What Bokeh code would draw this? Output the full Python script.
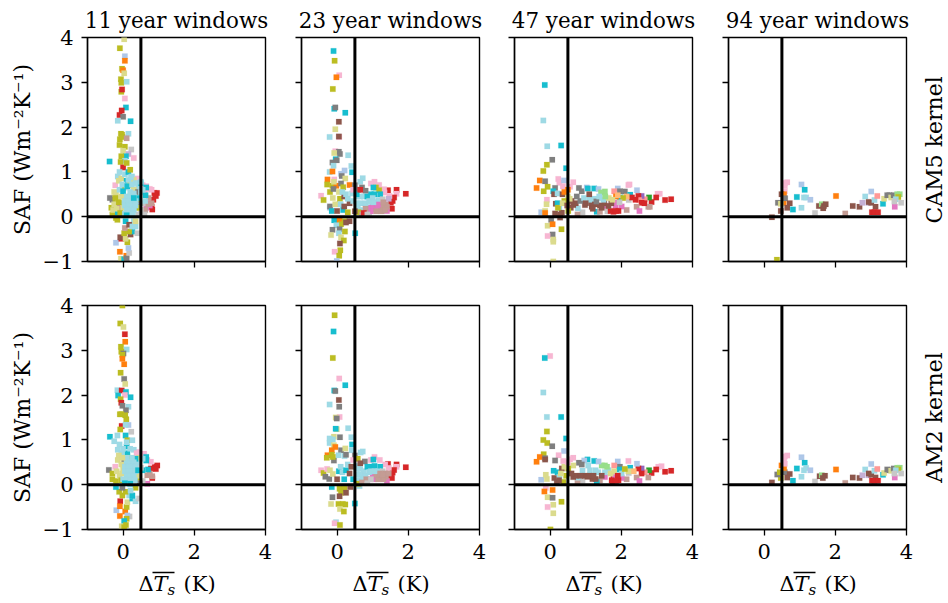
from math import pi
from bokeh.plotting import figure
from bokeh.layouts import column, row
from bokeh.models import Span, FixedTicker, ColumnDataSource
from bokeh.core.properties import value
from bokeh.embed import file_html
from bokeh.resources import INLINE

tab20 = ["#1f77b4","#aec7e8","#ff7f0e","#ffbb78","#2ca02c","#98df8a","#d62728","#ff9896","#9467bd","#c5b0d5",
         "#8c564b","#c49c94","#e377c2","#f7b6d2","#7f7f7f","#c7c7c7","#bcbd22","#dbdb8d","#17becf","#9edae5"]

titles = ["11 year windows","23 year windows","47 year windows","94 year windows"]
kernels = ["CAM5 kernel","AM2 kernel"]
ylabel = "SAF (Wm⁻²K⁻¹)"
xticks = [0,2,4]
yticks = [-1,0,1,2,3,4]

# (delta Ts, SAF, model colour index)
cam5_11 = [(.95,.53,6),(.92,.46,6),(.88,.53,6),(.85,.38,6),(.8,.22,6),(.82,.16,6),(.9,.48,6),(.4,.85,13),(.55,.7,13),(.65,.68,13),(.75,.62,13),(.8,.6,13),(.6,.55,13),
(.7,.3,12),(.75,.25,12),(.65,.2,12),(.7,.28,11),(.8,.3,11),(.62,.15,11),(.72,.42,11),(.55,.05,11),(.55,.3,15),(.5,.15,15),(.6,.05,15),
(.03,3.96,17),(-.09,3.76,16),(.05,3.58,1),(.05,3.48,2),(-.03,3.3,16),(0,3.27,2),(.03,3.2,17),(-.06,3.07,16),(-.05,2.99,16),(.1,3.01,19),(-.05,2.79,16),(-.03,2.84,6),(.05,2.64,13),(.08,2.44,18),(-.04,2.37,6),(-.1,2.27,6),(0,2.23,14),(-.15,2.14,19),(.21,2.13,18),(.15,1.85,19),(-.06,1.85,16),(-.03,1.83,16),(-.09,1.73,16),(-.02,1.78,16),(.1,1.75,11),(-.1,1.6,16),(.05,1.56,16),(.23,1.5,15),(0,1.47,17),(.15,1.4,9),(.08,1.35,18),(-.05,1.35,16),(.3,1.31,13),(-.38,1.23,18),(.05,1.25,19),(-.07,1.22,16),(0,1.1,6),(.1,1.2,16),
(-.2,-.58,1),(-.09,-.78,2),(-.06,-.94,17),(.03,-.95,18),(.09,-.87,2),(.1,-.93,14),(.17,-.81,15),(.15,-.7,1),(.12,-.57,16),(-.05,-.49,6),(-.08,-.46,10),(.07,-.49,17),(.21,-.4,10),(.26,-.33,18),(.4,-.37,15),(.35,-.22,19),(.17,-.33,16),(.03,-.37,16),(.05,-.25,11),(.07,-.1,18),(-.16,-.07,16),(-.2,-.03,16),(.3,-.1,19),(.17,-.18,10),(.26,-.22,19),(.35,-.1,17),
(-.37,.42,14),(-.3,.38,14),(-.33,.2,16),(-.3,.05,16),(-.28,.15,17),(-.25,.55,17),(-.22,.7,13),(-.2,.5,17),(-.2,.3,16),(-.15,.1,18),(-.15,.9,19),(-.1,1.0,19),(-.05,.85,17),(0,.65,16),(-.1,.6,19),(.05,.95,19),(.15,1.0,18),(.2,1.05,16),(.25,.9,19),(.3,.82,17),(.1,.8,18),(.1,.65,19),(-.05,.45,17),(-.05,.3,19),(-.1,.2,11),(0,.05,16),(0,.57,18),
(-.12,.8,17),(-.02,.72,19),(-.15,.42,17),(-.25,.28,17),(0,.2,17),(.15,.82,19),(.2,.7,17),(.22,.88,19),(.35,.55,17),(.42,.65,19),(.38,.2,17),(.45,.32,14),(-.18,.18,17),(-.12,.32,16),(-.22,.42,16),(-.08,.08,16),
(.35,.75,19),(.3,.6,17),(.38,.4,16),(.42,.55,14),(.45,.2,16),(.42,.05,15),(.5,.75,18),(.65,.65,18),(.5,.55,19),(.63,.48,18),(.45,.42,18),(.62,.35,19),(.5,.78,19),(.55,.6,19),
(.1,.45,19),(.2,.45,19),(.3,.45,19),(.05,.35,19),(.15,.35,19),(.25,.35,19),(.35,.35,19),(.05,.25,19),(.15,.25,19),(.25,.25,19),(.35,.25,19),(.1,.15,19),(.2,.15,19),(.3,.15,19),(.05,.07,19),(.15,.07,19),(.27,.07,19),(.2,.55,19),(.3,.52,19),(.12,.68,18),(.25,.72,19),(.1,.03,18),(.3,.42,18)]

cam5_23 = [(1.93,.51,6),(1.67,.6,6),(1.67,.51,13),(1.43,.59,6),(1.6,.43,6),(1.56,.35,6),(1.51,.31,6),(1.54,.18,6),(1.4,.13,12),(1.21,.13,11),(1.37,.28,11),(1.23,.28,11),(1.05,.16,12),(1,.24,12),(1.2,.24,12),(1.05,.78,13),(.95,.74,13),(1.18,.71,13),(1.32,.61,13),(1.33,.54,13),(1.47,.46,13),(1.09,.65,16),(1.18,.59,16),(1.02,.65,18),(.95,.5,18),(1.05,.5,18),(1.21,.5,18),(1.16,.37,19),(1.28,.39,15),(.9,.09,15),
(1.3,.15,11),(1.12,.2,12),(.95,.18,12),(1.28,.22,11),(1.4,.22,11),(1.45,.4,9),(.95,.12,12),(1.1,.12,11),(1.25,.12,11),(1.35,.15,11),(1.15,.27,12),(.85,.2,12),(1.3,.32,11),
(-.1,3.7,18),(-.07,3.48,16),(.06,3.16,13),(-.02,3.11,2),(-.12,2.85,16),(-.08,2.41,18),(-.05,2.44,14),(.23,2.32,18),(.05,2.12,10),(-.05,1.95,17),(-.21,1.78,19),(.06,1.78,13),(.05,1.79,10),(-.05,1.46,13),(.05,1.45,14),(-.08,1.42,17),(.08,1.4,14),(.31,1.37,19),(-.04,1.28,18),(-.01,1.26,14),(-.13,1.21,14),(-.1,1.14,19),(.4,1.13,19),(-.21,1,19),(-.13,1.01,2),(.42,.99,18),(.21,1.03,1),(.11,.96,1),(-.27,.83,2),(-.08,.83,13),(.13,.91,14),(.23,.85,17),(-.28,.72,16),(-.13,.69,16),(-.02,.69,2),(-.09,.78,17),(.11,.74,14),(.35,.71,2),(.17,.66,16),(.72,.86,19),(.65,.78,19),
(-.08,-.08,18),(.07,-.08,2),(.21,-.1,16),(.11,-.17,16),(-.02,-.19,19),(-.13,-.29,14),(.07,-.28,14),(.22,-.33,16),(.05,-.37,19),(-.17,-.41,17),(.51,-.37,18),(.11,-.46,17),(.19,-.53,16),(.08,-.6,10),(.09,-.75,16),(-.07,-.78,13),(.06,-.87,16),(-.01,-.99,1),(.35,-.1,10),(.25,-.13,10),
(-.45,.47,13),(-.38,.37,16),(-.2,.55,16),(-.1,.62,14),(-.2,.2,1),(-.2,.23,14),(-.15,.13,18),(-.05,.28,17),(-.12,.42,17),(0,.13,10),(.08,.4,16),(.05,.55,17),(.1,.28,19),(.17,.15,18),(.2,.23,10),(.3,.1,16),(.35,.3,10),(.2,.45,10),(.3,.4,19),(.42,.52,19),(.45,.35,19),(.25,.5,19),(.15,.55,19),(.5,.7,14),(.6,.6,14),(.45,.6,13),(.7,.65,14),(.8,.58,14),
(.55,.45,19),(.65,.45,19),(.75,.45,19),(.55,.3,19),(.65,.3,19),(.8,.3,19),(.85,.45,18),(.58,.2,19),(.7,.15,19),(.8,.18,11),(.9,.35,19),(.6,.1,16),(.7,.05,11),(.75,.08,6),(.85,.05,15),(.55,.5,18),(.65,.6,6),(.5,.12,10),(1.0,.42,19),(.95,.33,19),(1.02,.32,19)]

cam5_47 = [(-.15,2.94,18),(-.19,2.15,19),(-.08,1.57,19),(.31,1.59,18),(.06,1.27,14),(-.09,1.16,16),(-.19,1.02,16),(.45,1.08,18),(-.29,.81,2),(-.14,.79,14),(-.38,.64,2),(-.07,.67,16),(-.18,.57,16),(.23,.84,13),(.26,.76,13),(.39,.81,1),(.65,.77,13),(.36,.68,13),(.14,.64,14),(.09,.57,18),(.11,.5,10),(.21,.52,19),(.35,.5,10),(.56,.67,13),(.81,.64,14),(.89,.57,14),(1.03,.65,1),(1.06,.63,18),(1.24,.63,18),(1.36,.62,1),
(2.2,.71,13),(2.23,.72,13),(2.44,.59,1),(1.9,.63,1),(1.96,.57,14),(2.1,.56,14),(2.25,.49,18),(1.8,.57,7),(1.96,.43,18),(1.54,.56,5),(1.43,.54,5),(3.08,.51,13),(3.02,.51,13),(3.4,.39,6),(3.23,.37,6),(2.98,.43,6),(2.85,.33,6),(2.78,.43,4),(2.66,.39,7),(2.57,.46,8),(2.48,.46,6),(2.5,.37,7),(2.57,.31,6),(2.76,.22,11),(2.43,.22,11),(2.51,.13,12),(2.15,.15,11),(2.01,.23,12),(2.21,.37,15),(1.84,.31,12),(1.84,.24,12),(1.92,.13,6),(1.78,.11,6),(1.56,.24,12),(1.31,.11,18),(1.4,.11,11),(1.61,.12,15),(.91,.1,15),(.77,.05,11),(.78,.19,19),
(2.3,.43,6),(2.15,.45,3),(2.05,.42,16),(1.95,.32,15),(2.4,.38,6),(2.65,.3,6),(2.8,.22,11),(1.7,.13,6),(1.85,.13,6),(1.72,.3,10),(1.52,.3,10),(1.85,.45,2),(1.9,.48,3),
(.65,.26,10),(.58,.2,10),(.98,.26,10),(1.17,.22,10),(1.28,.28,10),(1.15,.31,10),(1.4,.25,10),(1.64,.24,10),(.72,.3,10),(.85,.35,14),(.95,.42,19),(1.1,.38,19),(1.25,.4,19),(1.4,.42,19),(1.5,.38,19),(1.65,.42,17),(1.75,.38,17),(1.1,.5,10),(.75,.45,14),(1.0,.3,10),(1.3,.34,14),(1.38,.45,19),(1.55,.45,5),(1.2,.18,10),(1.45,.2,10),(.6,.35,10),
(-.25,.1,1),(-.14,.13,17),(-.14,.08,2),(-.09,.38,13),(-.1,.28,17),(.16,.29,10),(.21,.3,18),(.26,.2,19),(.14,.07,10),(.33,.09,10),(.51,.13,16),(.5,.45,17),(.4,.35,16),(.55,.4,17),(.4,.55,2),(.5,.6,2),(.28,.05,10),(.22,.2,16),(.35,.3,17),(.48,.25,10),
(.03,-.07,14),(.28,-.02,10),(-.07,-.2,17),(.07,-.17,2),(.32,-.28,16),(.07,-.4,14),(-.07,-.43,13),(.09,-.51,17),(.09,-.56,17),(.09,-1,17)]

cam5_94 = [(.22,-.01,10),(.47,.13,10),(.36,-.96,16),(.55,.31,2),(.65,.77,13),(.59,.75,13),(.58,.69,13),(.58,.57,13),(.49,.5,10),(.56,.5,2),(.59,.41,14),(.39,.31,14),(.47,.29,17),(.72,.3,10),(.65,.2,10),(.81,.16,18),(.92,.44,18),(1.05,.72,1),(1.14,.6,18),(1.12,.43,19),(1.18,.43,19),(1.3,.38,1),(1.05,.2,19),(1.43,.08,15),(1.54,.24,10),(1.62,.28,5),(1.68,.24,10),(1.73,.28,10),(1.66,.19,10),(2.02,.46,2),(2.28,.07,11),(2.49,.24,10),(2.68,.22,10),(2.76,.31,9),(2.84,.45,19),(2.93,.31,9),(2.94,.33,10),(3.01,.31,10),(3.01,.56,1),(3.1,.37,19),(3.13,.22,10),(3.18,.46,7),(3.03,.1,6),(3.1,.1,6),(3.2,.1,6),(3.34,.29,18),(3.37,.4,17),(3.46,.48,14),(3.52,.48,14),(3.57,.43,17),(3.64,.48,14),(3.74,.5,5),(3.81,.5,5),(3.77,.44,16),(3.7,.39,19),(3.67,.22,12),(3.66,.34,15),(3.85,.31,15)]

am2_11 = [(.96,.43,6),(.89,.4,6),(.92,.35,6),(.82,.15,6),(.78,.36,6),(.78,.51,13),(.59,.69,13),(.4,.73,13),(.68,.55,13),(.82,.19,11),(.68,.21,11),(.75,.25,11),(.68,.02,12),(.55,.08,15),(.65,.62,18),(.65,.54,18),(.7,.34,18),(.54,.32,18),
(-.02,4,16),(-.08,3.6,16),(.01,3.52,17),(.05,3.36,6),(.06,3.19,2),(-.06,3.08,16),(.1,3.02,19),(-.05,2.97,16),(.01,2.93,14),(-.02,2.9,16),(-.02,2.81,2),(.03,2.69,2),(-.07,2.5,16),(.03,2.36,14),(.06,2.25,17),(-.16,2.11,19),(-.04,2.1,6),(.08,2.07,18),(-.14,1.99,18),(.05,2,13),(.21,1.95,18),(-.07,1.91,16),(-.05,1.83,6),(.15,1.74,19),(-.02,1.76,14),(.08,1.66,14),(-.09,1.57,16),(-.05,1.57,16),(.06,1.55,16),(.09,1.46,16),(-.04,1.31,6),(.15,1.33,1),(.07,1.34,19),(.23,1.18,15),(-.08,1.23,16),(-.37,1.07,18),(-.16,1.1,19),(.07,1.1,18),(-.25,.97,19),(.12,.99,16),(.26,.99,19),
(-.19,-.57,1),(-.08,-.37,6),(-.09,-.48,2),(.06,-.6,2),(.1,-.5,16),(-.09,-.7,2),(.18,-.71,15),(.12,-.69,1),(.1,-.76,16),(.03,-.81,18),(-.04,-.93,17),(.08,-.9,16),(.03,-.95,16),(.12,-.39,17),(.26,-.31,18),(.35,-.37,19),(.45,-.31,15),(.17,-.24,19),(.26,-.24,18),(-.02,-.24,16),(-.11,-.16,16),(-.2,-.05,18),(.07,-.16,16),(.35,-.07,16),(-.02,-.07,14),(.21,-.13,19),
(-.4,.33,14),(-.3,.25,16),(-.3,.12,16),(-.2,.08,16),(-.22,.4,13),(-.15,.55,17),(-.15,.78,19),(-.1,.9,19),(-.1,.2,17),(-.05,.1,16),(-.05,.7,19),(0,.35,17),(.03,.5,14),(.1,.85,18),(.12,.7,18),(.15,.6,16),(.2,.8,19),(.3,.78,19),(.38,.7,13),(.4,.5,19),(.45,.6,17),(.45,.15,16),(.5,.38,15),(.55,.58,19),(.35,.58,18),
(-.05,.45,17),(-.18,.3,17),(-.12,.65,17),(0,.8,19),(.1,.95,19),(.42,.2,17),(.47,.03,14),(-.03,.25,17),
(.1,.5,19),(.2,.5,19),(.3,.5,19),(.05,.4,19),(.15,.4,19),(.25,.4,19),(.35,.4,19),(.05,.3,19),(.15,.3,19),(.25,.3,19),(.35,.3,19),(.1,.2,19),(.2,.2,19),(.3,.2,19),(0,.12,19),(.1,.1,19),(.22,.1,19),(.33,.1,19),(.05,.03,18),(.2,.02,18),(.1,.6,19),(.25,.6,19),(-.02,.6,17),(.42,.32,18)]

am2_23 = [(1.93,.39,6),(1.67,.45,6),(1.67,.4,13),(1.43,.46,6),(1.6,.33,6),(1.56,.27,6),(1.51,.2,6),(1.54,.15,6),(1.4,.08,12),(1.21,.13,11),(1.37,.18,11),(1.25,.15,11),(1.05,.12,12),(1,.2,12),(1.05,.62,13),(.95,.55,13),(1.2,.55,13),(1.35,.45,13),(1.45,.37,13),(1.02,.56,18),(.95,.4,18),(1.05,.42,18),(1.21,.4,18),(1.16,.3,19),(1.28,.3,15),
(1.3,.12,11),(1.35,.25,11),(1.15,.12,11),(1.45,.25,11),(1.1,.22,11),(1.2,.25,11),(.92,.12,12),(1.28,.22,11),
(-.07,3.78,16),(-.1,3.42,18),(-.12,2.83,16),(.06,2.37,13),(.23,2.22,18),(-.08,2.1,18),(-.05,2.09,14),(.05,1.89,10),(-.21,1.79,19),(.06,1.74,14),(.07,1.51,13),(-.04,1.5,17),(-.01,1.48,14),(-.01,1.24,17),(-.04,1.25,18),(.31,1.26,19),(.08,1.06,14),(-.09,1.07,17),(-.21,1.03,19),(-.12,1.01,19),(.4,1.06,19),(-.21,.93,19),(-.09,.88,17),(.42,.9,18),(-.05,.84,2),(-.15,.77,2),(.11,.77,14),(.41,.77,19),(.23,.81,17),(-.27,.66,2),(-.15,.67,16),(-.29,.6,16),(-.09,.54,14),(.04,.66,19),(.21,.64,19),(.25,.67,14),(-.12,.62,16),
(-.15,-.05,18),(.07,-.09,16),(.21,-.09,16),(.11,-.18,16),(-.13,-.28,14),(.07,-.26,10),(-.17,-.43,17),(.04,-.43,16),(.16,-.43,16),(.23,-.44,16),(.08,-.54,17),(.19,-.6,16),(.5,-.42,18),(-.03,-.84,19),(-.07,-.86,13),(.08,-.9,16),(.37,-.05,10),(.63,-.03,19),(.25,-.18,10),
(-.45,.32,13),(-.38,.26,16),(-.28,.35,13),(-.33,.18,14),(-.2,.32,17),(-.22,.13,14),(-.12,.24,17),(0,.12,10),(.05,.3,18),(.1,.4,19),(.15,.28,19),(.25,.32,18),(.3,.45,19),(.35,.25,10),(.4,.4,10),(.45,.12,18),(.2,.12,18),(.5,.65,14),(.58,.58,16),(.72,.74,19),(.66,.72,19),(.78,.52,14),(.45,.55,13),(.6,.42,19),
(.55,.35,19),(.65,.35,19),(.75,.3,19),(.55,.22,19),(.65,.22,19),(.8,.2,19),(.85,.4,18),(.6,.1,19),(.72,.12,19),(.82,.12,11),(.9,.28,19),(.6,.02,16),(.7,.05,11),(.85,.03,15),(.95,.12,15),(.65,.48,10),(.95,.3,19),(1.05,.3,19)]

am2_47 = [(0,2.87,13),(-.15,2.83,18),(-.19,2.06,19),(-.09,1.51,19),(.31,1.51,18),(-.09,1.19,16),(-.19,1,16),(-.08,.93,16),(.06,.86,14),(.45,1.03,18),(.39,.75,1),(-.18,.68,16),(-.29,.62,2),(-.14,.59,14),(-.14,.56,10),(-.38,.51,2),(.24,.66,13),(.14,.54,14),(.37,.53,13),(.65,.6,13),(.56,.57,13),
(3.4,.31,6),(3.23,.29,6),(3.13,.41,13),(3.04,.4,13),(2.98,.34,6),(2.85,.26,6),(2.78,.32,4),(2.66,.28,7),(2.57,.36,8),(2.48,.36,6),(2.57,.25,6),(2.76,.16,11),(2.44,.47,1),(2.2,.53,13),(2.43,.16,11),(2.51,.08,12),(2.15,.12,11),(2.01,.15,12),(2.25,.38,18),(2.21,.26,15),(1.9,.52,1),(1.96,.4,14),(1.94,.34,18),(1.8,.43,7),(1.54,.43,5),(1.45,.43,5),(1.78,.13,6),(1.82,.17,12),(1.73,.1,6),(1.92,.1,6),(2.01,.25,19),(1.54,.17,12),(1.4,.1,11),(1.24,.53,18),(1.36,.52,1),(1.05,.56,18),(.96,.54,1),(.81,.49,14),(.89,.45,14),(1.07,.43,19),(1.28,.32,19),(1.12,.32,19),(.91,.31,19),(1.31,.06,18),(.91,.09,15),(.77,.04,11),(.78,.16,19),(.65,.17,10),(.98,.2,10),(1.19,.13,10),(1.28,.13,10),(1.54,.28,19),(1.64,.32,19),(1.35,.28,19),(.65,.43,17),(.51,.36,16),
(.72,.2,10),(.85,.2,10),(1.05,.18,10),(.6,.25,10),(1.7,.25,17),(1.8,.3,17),(2.35,.3,3),(2.2,.3,17),(2.1,.35,16),(1.6,.4,5),(1.1,.2,10),(1.22,.2,10),(1.45,.2,10),(1.9,.2,6),(1.75,.05,6),(1.85,.08,6),
(-.25,.11,1),(-.09,.13,17),(-.12,.22,17),(.12,.15,10),(.1,.31,18),(.21,.28,18),(.26,.17,19),(.33,.36,10),(.19,.06,10),(.37,.06,16),(.45,.2,16),(.4,.4,17),(.25,.1,10),(.3,.25,17),(.5,.5,13),
(-.12,-.07,13),(-.16,-.15,2),(.07,-.12,2),(-.07,-.28,17),(.07,-.29,14),(.32,-.38,16),(.09,-.45,17),(-.07,-.5,13),(.09,-.64,17),(.01,-1,16)]

am2_94 = [(.22,.05,10),(2.28,.04,11),(1.43,.07,15),(.81,.09,18),(1.05,.18,19),(.47,.15,16),(.37,.23,14),(.44,.28,16),(.58,.28,14),(.56,.37,2),(.49,.43,2),(.65,.65,13),(.58,.63,13),(.56,.54,13),(.58,.47,13),(.72,.24,10),(.65,.16,10),(.92,.36,18),(1.05,.61,1),(1.14,.49,18),(1.12,.32,19),(1.18,.37,19),(1.3,.32,1),(1.56,.19,10),(1.62,.21,5),(1.71,.2,10),(1.65,.15,10),(2.02,.34,2),(2.49,.16,10),(2.68,.15,10),(2.76,.21,9),(2.84,.34,19),(2.93,.21,9),(2.94,.25,10),(3.01,.22,10),(3.01,.46,1),(3.1,.31,19),(3.13,.16,10),(3.18,.35,7),(3.03,.09,6),(3.1,.09,6),(3.2,.09,6),(3.34,.22,18),(3.37,.26,17),(3.46,.34,14),(3.52,.32,14),(3.57,.31,17),(3.64,.36,14),(3.74,.38,5),(3.81,.38,5),(3.77,.34,16),(3.7,.32,19),(3.67,.16,12),(3.66,.25,15),(3.85,.25,15)]

FONT = "DejaVu Serif"
FRAME_W, FRAME_H = 178, 224
LEFTS = [87, 28, 27, 28]
RIGHT = 8

def panel(data, r, c):
    top = 37 if r == 0 else 22
    bottom = 22 if r == 0 else 36
    left = LEFTS[c]
    p = figure(width=left+FRAME_W+RIGHT, height=top+FRAME_H+bottom, x_range=(-1,4), y_range=(-1,4),
               output_backend="svg", toolbar_location=None,
               min_border_left=left, min_border_right=RIGHT, min_border_top=top, min_border_bottom=bottom,
               border_fill_color=None)
    p.grid.visible = False
    p.outline_line_color = "black"
    p.outline_line_width = 1.4
    for ax, ticks in ((p.xaxis[0], xticks), (p.yaxis[0], yticks)):
        ax.ticker = FixedTicker(ticks=ticks)
        ax.minor_tick_line_color = None
        ax.major_tick_in = 0
        ax.major_tick_out = 6
        ax.major_tick_line_width = 1.3
        ax.major_tick_line_color = "black"
        ax.axis_line_color = "black"
        ax.axis_line_width = 1.4
        ax.major_label_text_font = FONT
        ax.major_label_text_font_size = "21px"
        ax.major_label_text_color = "black"
    p.xaxis.major_label_standoff = 8
    p.yaxis.major_label_standoff = 8
    if r == 0:
        p.xaxis.major_label_overrides = {t: "" for t in xticks}
    if c > 0:
        p.yaxis.major_label_overrides = {t: "" for t in yticks}
    else:
        p.yaxis.major_label_overrides = {t: str(t).replace("-", "−") for t in yticks}
        p.yaxis.axis_label = ylabel
        p.yaxis.axis_label_text_font = FONT
        p.yaxis.axis_label_text_font_style = "normal"
        p.yaxis.axis_label_text_font_size = "22px"
        p.yaxis.axis_label_text_color = "black"
        p.yaxis.axis_label_standoff = 5
    if r == 0:
        p.title.text = titles[c]
        p.title.text_font = FONT
        p.title.text_font_style = "normal"
        p.title.text_font_size = "21.4px"
        p.title.text_color = "black"
        p.title.align = "center"
        p.title.offset = 0
        p.title.standoff = 9

    src = ColumnDataSource(dict(x=[d[0] for d in data], y=[d[1] for d in data],
                                color=[tab20[d[2]] for d in data]))
    p.scatter("x", "y", source=src, marker="square", size=5.5, fill_color="color", line_color="color", line_width=0.3, line_alpha=0.5)
    p.add_layout(Span(location=0.5, dimension="height", line_color="black", line_width=3))
    p.add_layout(Span(location=0, dimension="width", line_color="black", line_width=3))
    return p

def strip(w, h):
    s = figure(width=w, height=h, x_range=(0,w), y_range=(0,h), output_backend="svg", toolbar_location=None,
               x_axis_location=None, y_axis_location=None, min_border=0, border_fill_color=None, outline_line_color=None)
    s.grid.visible = False
    return s

def kernel_strip(r):
    h = 283 if r == 0 else 282
    s = strip(34, h)
    s.text([20], [141], text=[kernels[r]], text_font=value(FONT), text_font_size="22px", angle=pi/2,
           text_align="center", text_baseline="middle", text_color="black")
    return s

CENTERS = [176, 390, 603, 817]
def label_strip():
    s = strip(914, 38)
    mid = 20
    for cx in CENTERS:
        s.text([cx-38], [mid], text=["Δ"], text_font=value(FONT), text_font_size="21px", text_baseline="middle", text_color="black")
        s.text([cx-23], [mid], text=["T"], text_font=value(FONT), text_font_style="italic", text_font_size="21px", text_baseline="middle", text_color="black")
        s.text([cx-9], [mid-6], text=["s"], text_font=value(FONT), text_font_style="italic", text_font_size="15px", text_baseline="middle", text_color="black")
        s.text([cx+7], [mid], text=["(K)"], text_font=value(FONT), text_font_size="21px", text_baseline="middle", text_color="black")
        s.segment([cx-24], [31], [cx-2], [31], line_color="black", line_width=1.3)
    return s

page = column(
    row(panel(cam5_11,0,0), panel(cam5_23,0,1), panel(cam5_47,0,2), panel(cam5_94,0,3), kernel_strip(0), spacing=0),
    row(panel(am2_11,1,0), panel(am2_23,1,1), panel(am2_47,1,2), panel(am2_94,1,3), kernel_strip(1), spacing=0),
    label_strip(),
    spacing=0)
open("out.html", "w").write(file_html(page, INLINE))
